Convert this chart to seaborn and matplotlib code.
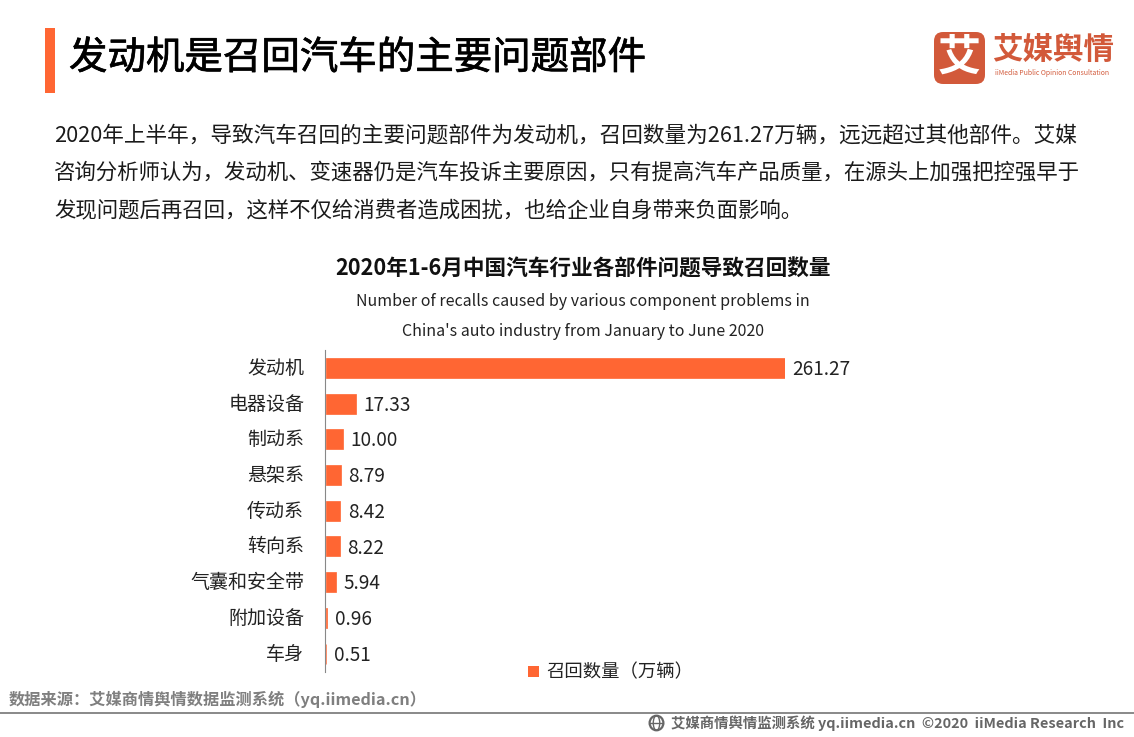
import matplotlib
matplotlib.use("Agg")
import matplotlib.pyplot as plt
import matplotlib.patheffects as pe
from matplotlib.patches import Rectangle, FancyBboxPatch, Circle, Ellipse
from matplotlib.transforms import ScaledTranslation
import pandas as pd
import seaborn as sns

categories = ["发动机", "电器设备", "制动系", "悬架系", "传动系", "转向系", "气囊和安全带", "附加设备", "车身"]
recalls = [261.27, 17.33, 10.00, 8.79, 8.42, 8.22, 5.94, 0.96, 0.51]
value_labels = ["261.27", "17.33", "10.00", "8.79", "8.42", "8.22", "5.94", "0.96", "0.51"]
series_name = "召回数量（万辆）"

page_title = "发动机是召回汽车的主要问题部件"
body_lines = [
    "2020年上半年，导致汽车召回的主要问题部件为发动机，召回数量为261.27万辆，远远超过其他部件。艾媒",
    "咨询分析师认为，发动机、变速器仍是汽车投诉主要原因，只有提高汽车产品质量，在源头上加强把控强早于",
    "发现问题后再召回，这样不仅给消费者造成困扰，也给企业自身带来负面影响。",
]
chart_title = "2020年1-6月中国汽车行业各部件问题导致召回数量"
chart_sub = ["Number of recalls caused by various component problems in",
             "China's auto industry from January to June 2020"]
source = "数据来源：艾媒商情舆情数据监测系统（yq.iimedia.cn）"
footer = "艾媒商情舆情监测系统 yq.iimedia.cn  ©2020  iiMedia Research  Inc"

sns.set_theme(style="white")
plt.rcParams['font.family'] = ['Noto Sans CJK SC', 'DejaVu Sans']

W, H = 1134, 737
ORANGE = "#FF6633"
LOGO = "#D2593A"
fig = plt.figure(figsize=(W / 100, H / 100), dpi=100, facecolor="white")

def fx(px): return px / W
def fy(py): return 1 - py / H
def T(px, py, s, size, color="#111111", ha="left", weight="normal", **kw):
    return fig.text(fx(px), fy(py), s, fontsize=size, color=color, ha=ha, va="center", fontweight=weight, **kw)

ax = fig.add_axes([fx(325.5), fy(671.5), fx(459.5), (671.5 - 350) / H])
df = pd.DataFrame({"部件": categories, "数量": recalls})
sns.barplot(data=df, y="部件", x="数量", color=ORANGE, saturation=1, width=0.56, ax=ax, zorder=5,
            edgecolor=ORANGE, linewidth=0.5)
ax.set_xlim(0, 261.27)
ax.set_xlabel("")
ax.set_ylabel("")
ax.xaxis.set_visible(False)
for s in ["top", "right", "bottom"]:
    ax.spines[s].set_visible(False)
ax.spines["left"].set_color("#888888")
ax.spines["left"].set_linewidth(0.8)
ax.spines["left"].set_position(("outward", 0.4))
ax.spines["left"].set_zorder(4)
ax.tick_params(axis="y", length=0, pad=15, labelsize=13.7, labelcolor="#222222")
shift = ScaledTranslation(0, 2 / 100, fig.dpi_scale_trans)
for lab in ax.get_yticklabels():
    lab.set_transform(lab.get_transform() + shift)
ax.patch.set_alpha(0)
for c, v, lab in zip(ax.containers[0], recalls, value_labels):
    ax.annotate(lab, (v, c.get_y() + c.get_height() / 2), xytext=(5.5, -1.2), textcoords="offset points",
                va="center", ha="left", fontsize=13.7, color="#222222", zorder=6)

# Header
fig.add_artist(Rectangle((fx(45), fy(93)), fx(10), 65 / H, transform=fig.transFigure, color=ORANGE, lw=0))
tt = T(69, 58, page_title, 27.7, color="#000000")
tt.set_path_effects([pe.withStroke(linewidth=0.5, foreground="#000000")])
for y, line, size in zip([135, 173, 211], body_lines, [15.6, 15.43, 15.43]):
    T(54, y, line, size, color="#1a1a1a")

# Logo
fig.add_artist(FancyBboxPatch((fx(934), fy(84)), fx(51), 52 / H,
                              boxstyle="round,pad=0,rounding_size=0.008", transform=fig.transFigure,
                              mutation_aspect=W / H, color=LOGO, lw=0))
T(959.5, 58, "艾", 31, color="white", ha="center", weight="bold")
T(992, 50, "艾媒舆情", 22, color=LOGO, weight="bold")
T(995, 73, "iiMedia Public Opinion Consultation", 4.9, color=LOGO)

# Chart titles
T(583, 269, chart_title, 15.6, color="#111111", ha="center", weight="bold")
T(583, 302, chart_sub[0], 11.5, color="#222222", ha="center")
T(583, 331, chart_sub[1], 11.5, color="#222222", ha="center")

# Legend
fig.add_artist(Rectangle((fx(528), fy(677)), fx(11), 11 / H, transform=fig.transFigure, color=ORANGE, lw=0))
T(546, 672, series_name, 13.2, color="#222222")

# Source and footer
T(9, 699, source, 11.7, color="#7f7f7f", weight="bold")
fig.add_artist(Rectangle((0, fy(713.5)), 1, 2 / H, transform=fig.transFigure, color="#8c8c8c", lw=0))
T(1124, 723, footer, 10.4, color="#666666", ha="right", weight="bold")
# Footer globe icon
ia = fig.add_axes([fx(648), fy(732), fx(17), 18 / H])
ia.set_xlim(-1.05, 1.05); ia.set_ylim(-1.05, 1.05); ia.axis("off")
ia.add_patch(Circle((0, 0), 0.85, fill=False, ec="#666666", lw=1.6))
ia.add_patch(Ellipse((0, 0), 0.8, 1.7, fill=False, ec="#666666", lw=1))
ia.plot([-0.85, 0.85], [0, 0], color="#666666", lw=1)

fig.savefig("out.png", dpi=100, facecolor="white")
